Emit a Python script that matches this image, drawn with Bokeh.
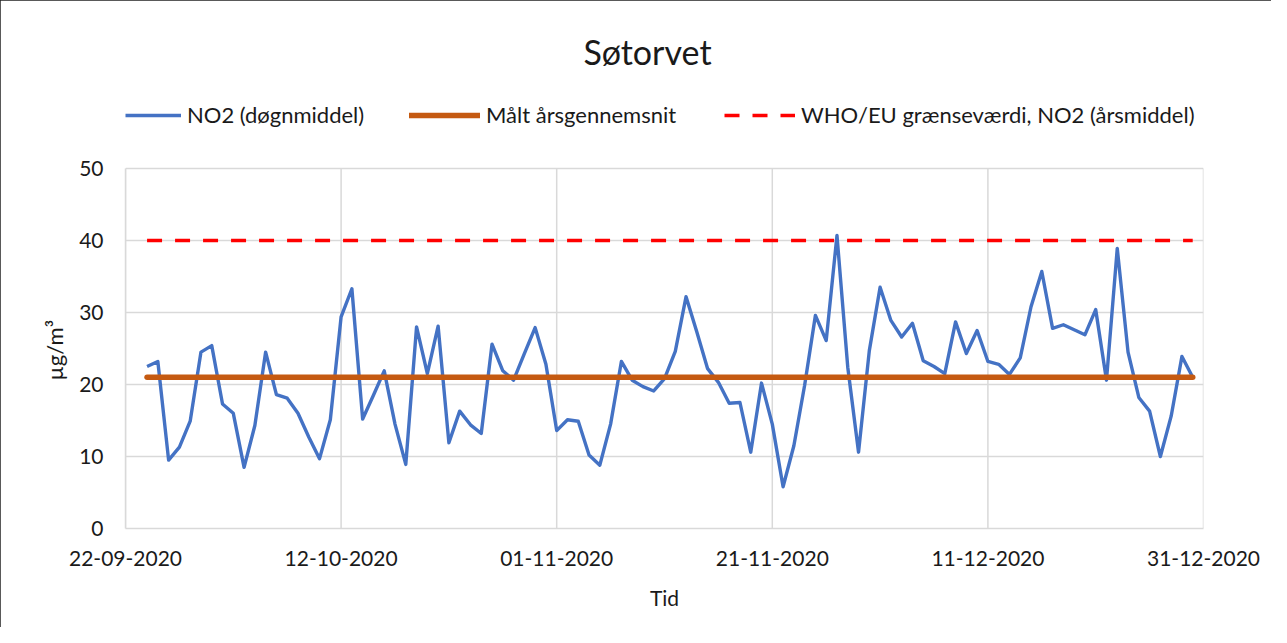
import pandas as pd
from bokeh.plotting import figure
from bokeh.models import (Range1d, DatetimeTickFormatter, Legend, LegendItem, Label, Title)
from bokeh.embed import file_html
from bokeh.resources import INLINE

# ---------------- data ----------------
title_text = "Søtorvet"
series_labels = ["NO2 (døgnmiddel)", "Målt årsgennemsnit", "WHO/EU grænseværdi, NO2 (årsmiddel)"]
first_day = "2020-09-24"
no2_values = [
    22.5, 23.2, 9.5, 11.3, 14.9, 24.5, 25.4,                       # 24-30 Sep
    17.3, 16.0, 8.5, 14.3, 24.5, 18.6, 18.1, 16.0, 12.7, 9.7,      # 1-10 Oct
    15.1, 29.4, 33.3, 15.2, 18.5, 21.9, 14.5, 8.9, 28.0, 21.5,     # 11-20 Oct
    28.1, 11.9, 16.3, 14.4, 13.2, 25.6, 21.9, 20.6, 24.3, 27.9, 22.8,  # 21-31 Oct
    13.6, 15.1, 14.9, 10.2, 8.8, 14.5, 23.2, 20.6, 19.7, 19.1,     # 1-10 Nov
    20.8, 24.6, 32.2, 27.3, 22.2, 20.3, 17.4, 17.5, 10.6, 20.2,    # 11-20 Nov
    14.5, 5.8, 11.5, 19.9, 29.6, 26.1, 40.7, 22.4, 10.6, 24.7,     # 21-30 Nov
    33.5, 28.9, 26.6, 28.5, 23.3, 22.5, 21.5, 28.7, 24.3, 27.5,    # 1-10 Dec
    23.2, 22.8, 21.4, 23.7, 30.8, 35.7, 27.8, 28.3, 27.6, 26.9,    # 11-20 Dec
    30.4, 20.6, 38.9, 24.5, 18.2, 16.3, 10.0, 15.6, 23.9, 21.0,    # 21-30 Dec
]
annual_mean = 21.0
limit_value = 40.0
x_tick_dates = ["2020-09-22", "2020-10-12", "2020-11-01", "2020-11-21", "2020-12-11", "2020-12-31"]
y_ticks = [0, 10, 20, 30, 40, 50]
x_title = "Tid"
y_title = "µg/m³"

# ---------------- build ----------------
dates = pd.date_range(first_day, periods=len(no2_values), freq="D")
tick_ts = [pd.Timestamp(d) for d in x_tick_dates]
tick_ms = [int(t.value // 10**6) for t in tick_ts]
span_x = [dates[0], dates[-1]]

FONT = "Lato"
TXT = "#1a1a1a"
GRID = "#d9d9d9"

W, H = 1271, 627
B_LEFT, B_RIGHT, B_TOP, B_BOTTOM = 125, 68, 10, 99
frame_h = H - B_TOP - B_BOTTOM
plot_area_h = 360  # pixel height of the 0..50 band
y_top = y_ticks[-1] * frame_h / plot_area_h  # frame extends above 50 to hold title & legend

p = figure(width=W, height=H, x_axis_type="datetime",
           x_range=Range1d(tick_ts[0], tick_ts[-1]),
           y_range=Range1d(y_ticks[0], y_top),
           output_backend="svg", toolbar_location=None,
           min_border_left=B_LEFT, min_border_right=B_RIGHT,
           min_border_top=B_TOP, min_border_bottom=B_BOTTOM)

p.outline_line_color = None
p.background_fill_color = "white"
p.border_fill_color = "white"
p.styles = {"outline": "1.5px solid #222", "outline-offset": "-1.5px"}

# vertical grid lines limited to the 0..50 band
p.segment(x0=tick_ts, y0=[y_ticks[0]] * len(tick_ts), x1=tick_ts, y1=[y_ticks[-1]] * len(tick_ts),
          line_color=GRID, line_width=1.5)
p.xgrid.visible = False

r_no2 = p.line(dates, no2_values, line_color="#4472C4", line_width=3.4, line_join="round")
r_mean = p.line(span_x, [annual_mean, annual_mean], line_color="#C55A11", line_width=5.5,
                line_cap="round")
r_limit = p.line(span_x, [limit_value, limit_value], line_color="#FF0000", line_width=3.5,
                 line_dash="15 13")

# axes
p.xaxis.ticker = tick_ms
p.yaxis.ticker = y_ticks
p.yaxis.bounds = (y_ticks[0], y_ticks[-1])
fmt = "%d-%m-%Y"
p.xaxis.formatter = DatetimeTickFormatter(
    microseconds=fmt, milliseconds=fmt, seconds=fmt, minsec=fmt, minutes=fmt,
    hourmin=fmt, hours=fmt, days=fmt, months=fmt, years=fmt)

for ax in (p.xaxis, p.yaxis):
    ax.axis_line_color = GRID
    ax.axis_line_width = 1.5
    ax.major_tick_line_color = None
    ax.minor_tick_line_color = None
    ax.major_tick_in = 0
    ax.major_tick_out = 0
    ax.major_label_text_font = FONT
    ax.major_label_text_font_size = "21px"
    ax.major_label_text_color = TXT
    ax.axis_label_text_font = FONT
    ax.axis_label_text_font_size = "21px"
    ax.axis_label_text_font_style = "normal"
    ax.axis_label_text_color = TXT

p.xaxis.major_label_standoff = 22
p.yaxis.major_label_standoff = 22
p.xaxis.axis_label = x_title
p.xaxis.axis_label_standoff = 16

# y-axis title placed along the 0..50 band (the frame extends higher)
p.add_layout(Title(text=y_title, align="left", offset=148, standoff=17,
                   text_font=FONT, text_font_size="22px", text_font_style="normal",
                   text_color=TXT), "left")

p.ygrid.grid_line_color = GRID
p.ygrid.grid_line_width = 1.5

# title (inside the enlarged frame, above the data band)
p.add_layout(Label(x=522, y=477, x_units="screen", y_units="screen", text=title_text,
                   text_align="center", text_baseline="alphabetic",
                   text_font=FONT, text_font_size="34px", text_color=TXT))

# legend: one legend per entry, placed like the reference's columns
legend_specs = [(r_no2, 0, 56), (r_mean, 284, 71), (r_limit, 599, 71)]
for (rend, lx, gw), lab in zip(legend_specs, series_labels):
    lg = Legend(items=[LegendItem(label=lab, renderers=[rend])],
                orientation="horizontal", location=(lx, 400),
                glyph_width=gw, glyph_height=20, label_standoff=6, spacing=0,
                padding=0, margin=0, border_line_color=None, background_fill_alpha=0,
                label_text_font=FONT, label_text_font_size="22px", label_text_color=TXT)
    p.add_layout(lg)

open("out.html", "w").write(file_html(p, INLINE))
